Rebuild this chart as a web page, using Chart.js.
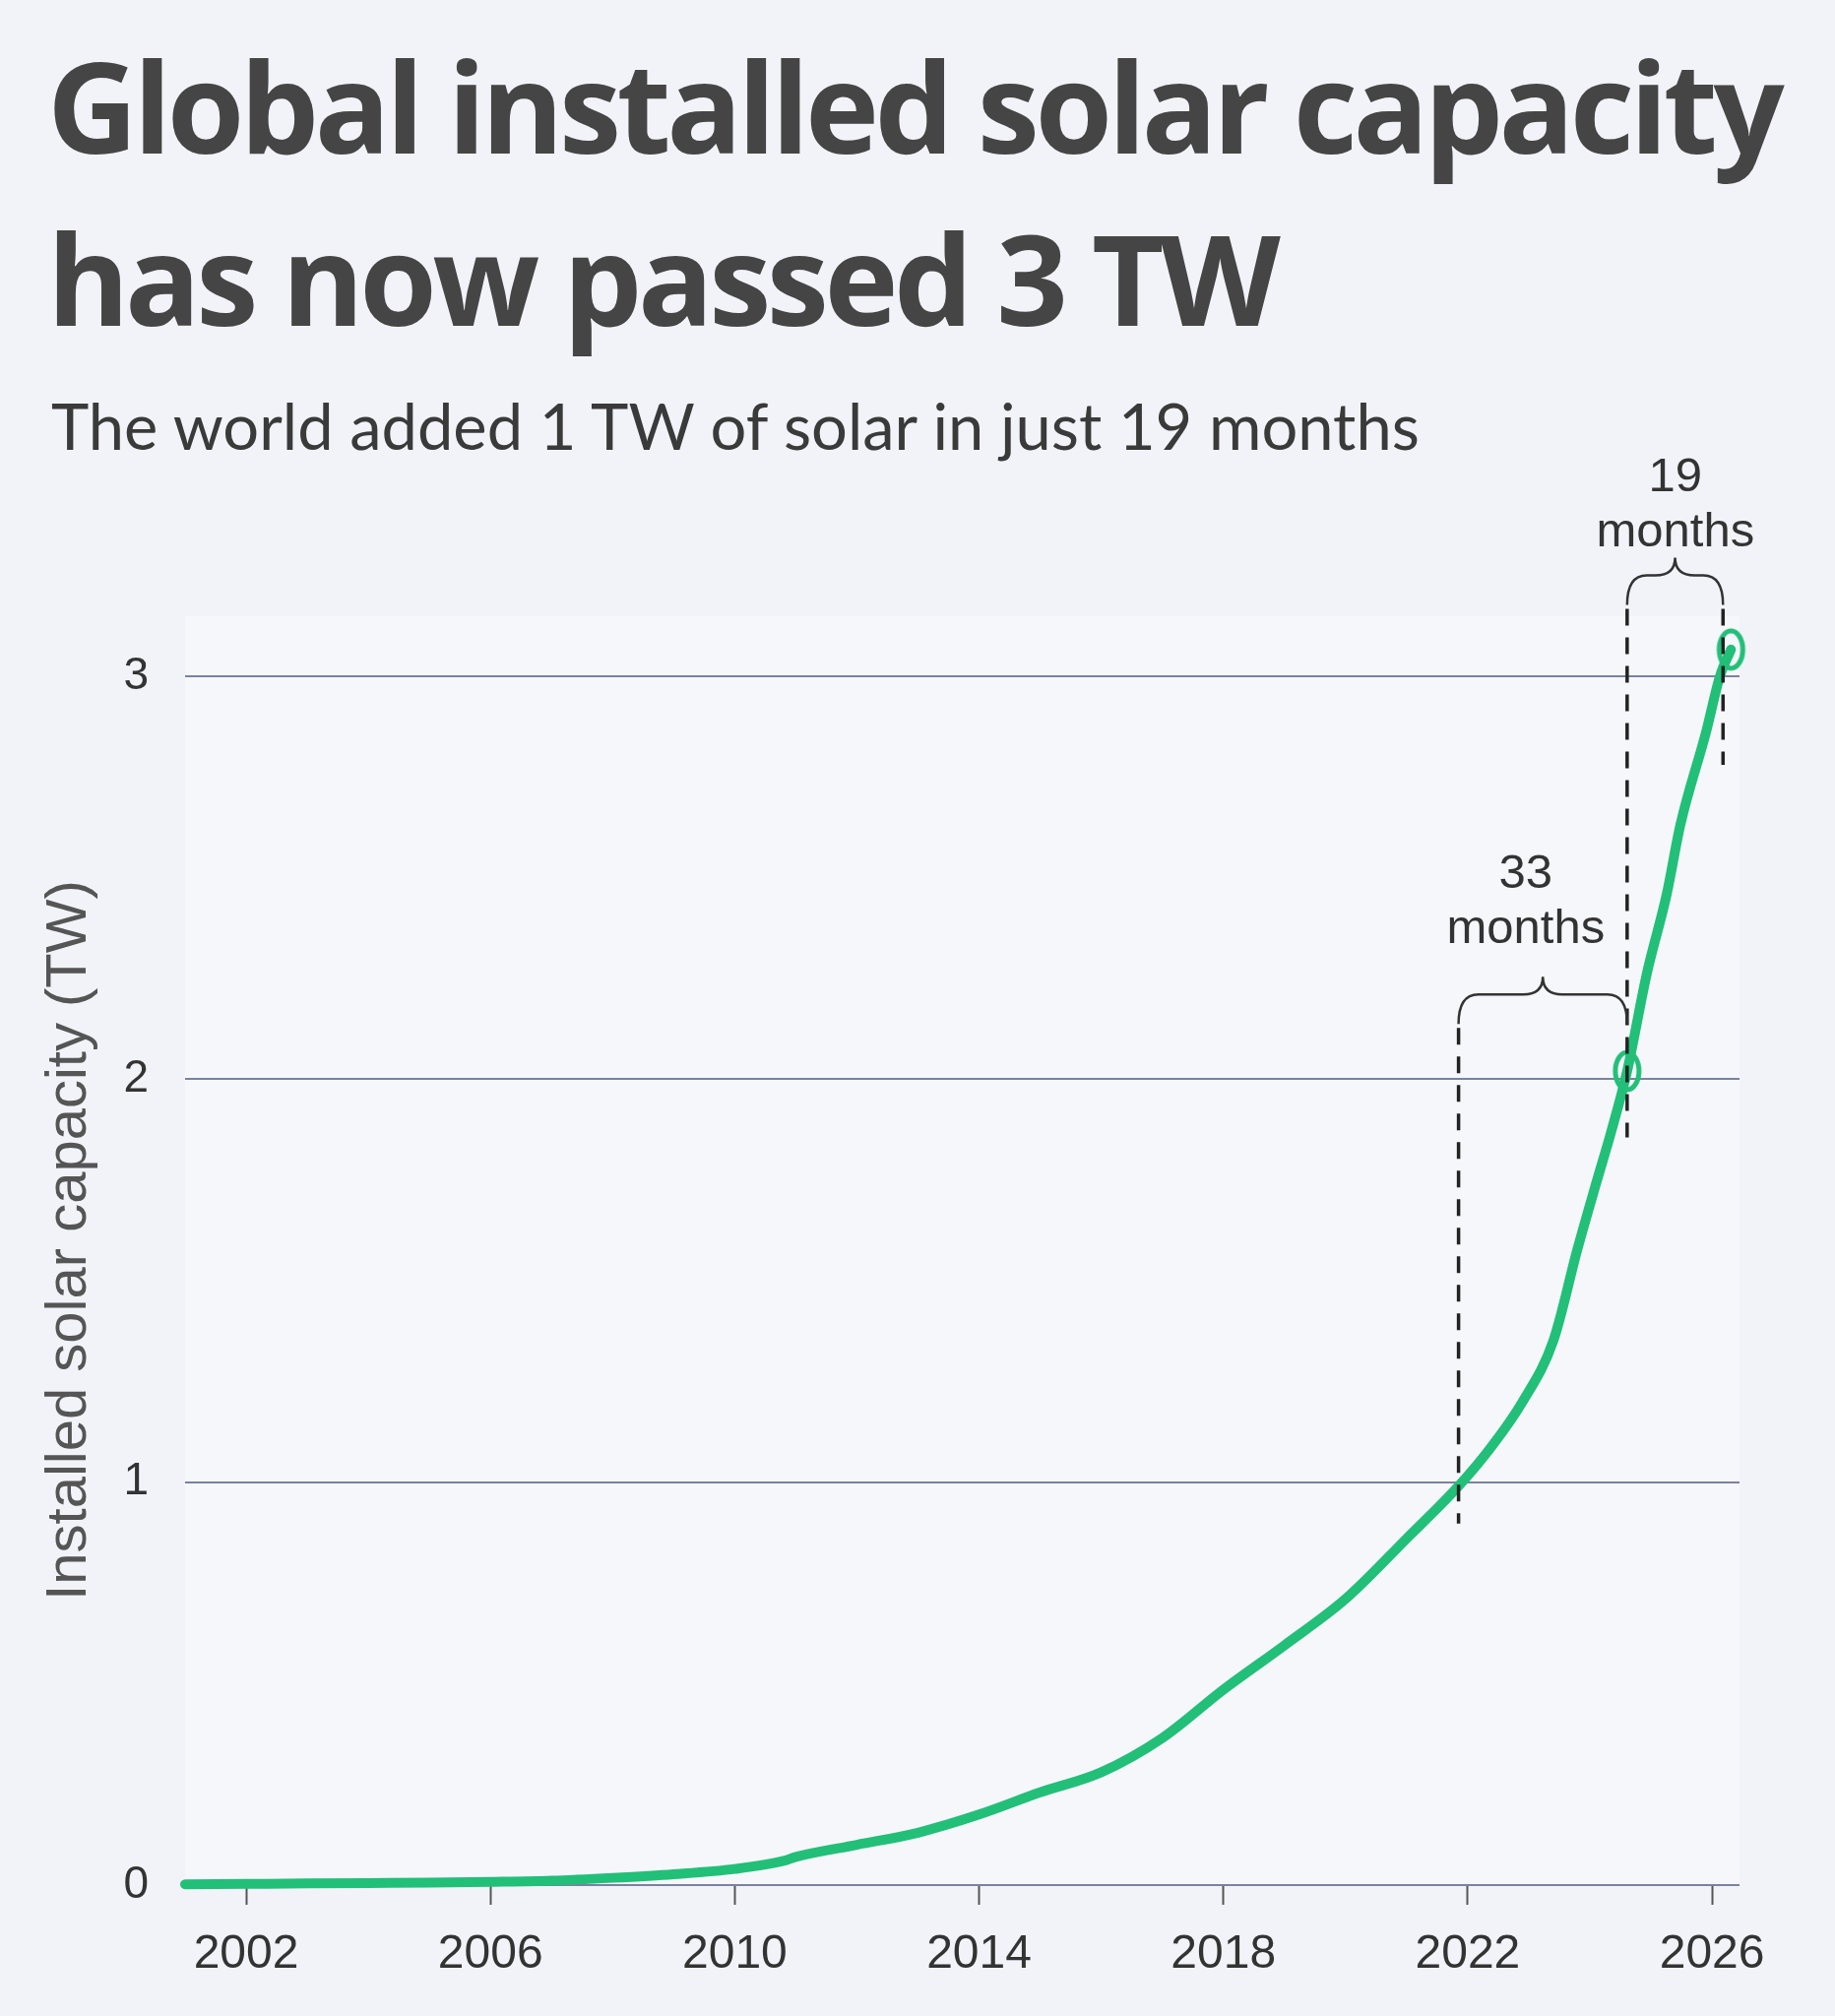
<!DOCTYPE html>
<html>
<head>
<meta charset="utf-8">
<script src="https://cdn.jsdelivr.net/npm/chart.js@4.4.1/dist/chart.umd.min.js"></script>
<style>
  html, body { margin: 0; padding: 0; }
  body { width: 1864px; height: 2048px; overflow: hidden; background: #f2f3f8; position: relative; }
  #title {
    position: absolute; left: 48px; top: 19px; margin: 0;
    font-family: "Open Sans", sans-serif; font-weight: 700; font-size: 127px;
    line-height: 175px; letter-spacing: -4.5px; color: #454545; white-space: nowrap;
  }
  #subtitle {
    position: absolute; left: 52px; top: 393px; margin: 0;
    font-family: Lato, sans-serif; font-weight: 400; font-size: 65px;
    line-height: 78px; color: #3a3a3a; white-space: nowrap;
  }
  #chart { position: absolute; left: 0; top: 440px; }
</style>
</head>
<body>
<h1 id="title">Global installed solar capacity<br>has now passed 3 TW</h1>
<p id="subtitle">The world added 1 TW of solar in just 19 months</p>
<canvas id="chart" width="1864" height="1608"></canvas>
<script>
// cumulative installed capacity
const years = [2001, 2002, 2003, 2004, 2005, 2006, 2007, 2008, 2009, 2010, 2010.8, 2011,
  2012, 2013, 2014, 2015, 2016, 2017, 2018, 2019, 2020, 2021, 2021.85, 2022.4,
  2022.9, 2023.4, 2023.8, 2024.1, 2024.35, 2024.61, 2024.93, 2025.26, 2025.48,
  2025.9, 2026.13, 2026.31];
const capacityTW = [0.002, 0.003, 0.004, 0.005, 0.006, 0.008, 0.011, 0.018, 0.027, 0.04, 0.06, 0.07,
  0.10, 0.13, 0.175, 0.23, 0.28, 0.365, 0.485, 0.595, 0.71, 0.86, 0.99, 1.09,
  1.20, 1.35, 1.58, 1.74, 1.87, 2.02, 2.26, 2.46, 2.63,
  2.86, 3.0, 3.066];

// the 2 TW and 3 TW milestones
const markerYears = [2024.61, 2026.31];
const markerTW = [2.02, 3.066];

const xTicks = [2002, 2006, 2010, 2014, 2018, 2022, 2026];
const yTicks = [0, 1, 2, 3];

// brackets: time taken to add each TW
const spanFrom = [2021.85, 2024.61];
const spanTo = [2024.61, 2026.18];
const spanTW = [2.21, 3.25];
const spanNumber = ['33', '19'];
const spanUnit = ['months', 'months'];
const spanLabelYear = [2022.95, 2025.4];
const spanLabelTW = [2.475, 3.46];

// dashed guides dropping from the brackets to the curve
const guideYear = [2021.85, 2024.61, 2026.18];
const guideBottomTW = [0.897, 1.855, 2.78];
const guideTopTW = [2.21, 3.25, 3.25];

const green = '#22bf78';
const ink = '#333333';

// hollow, slightly tall ring used for the milestone markers
function ring() {
  const c = document.createElement('canvas');
  c.width = 40; c.height = 56;
  const g = c.getContext('2d');
  g.strokeStyle = green;
  g.lineWidth = 5;
  g.beginPath();
  g.ellipse(20, 28, 12, 19, 0, 0, Math.PI * 2);
  g.stroke();
  return c;
}

const plotBg = {
  id: 'plotBg',
  beforeDraw(chart) {
    const { ctx, chartArea: a } = chart;
    const top = chart.scales.y.getPixelForValue(3.15);
    ctx.save();
    ctx.fillStyle = '#f6f7fb';
    ctx.fillRect(a.left, top, a.right - a.left, a.bottom - top);
    ctx.restore();
  }
};

function brace(ctx, x1, x2, y, hook, r, cusp) {
  const xm = (x1 + x2) / 2;
  ctx.beginPath();
  ctx.moveTo(x1, y + hook);
  ctx.quadraticCurveTo(x1, y, x1 + r, y);
  ctx.lineTo(xm - r, y);
  ctx.quadraticCurveTo(xm, y, xm, y - cusp);
  ctx.quadraticCurveTo(xm, y, xm + r, y);
  ctx.lineTo(x2 - r, y);
  ctx.quadraticCurveTo(x2, y, x2, y + hook);
  ctx.stroke();
}

const annotations = {
  id: 'annotations',
  afterDatasetsDraw(chart) {
    const { ctx } = chart;
    const xs = chart.scales.x, ys = chart.scales.y;
    const hook = 30;
    ctx.save();
    // dashed guides
    ctx.strokeStyle = '#222';
    ctx.lineWidth = 3.5;
    ctx.setLineDash([17, 12]);
    guideYear.forEach((yr, i) => {
      const x = xs.getPixelForValue(yr);
      ctx.beginPath();
      ctx.moveTo(x, ys.getPixelForValue(guideTopTW[i]) + hook + 4);
      ctx.lineTo(x, ys.getPixelForValue(guideBottomTW[i]));
      ctx.stroke();
    });
    ctx.setLineDash([]);
    // braces
    ctx.strokeStyle = ink;
    ctx.lineWidth = 2.5;
    spanFrom.forEach((from, i) => {
      brace(ctx, xs.getPixelForValue(from), xs.getPixelForValue(spanTo[i]),
        ys.getPixelForValue(spanTW[i]), hook, 20, 18);
    });
    // labels
    ctx.fillStyle = ink;
    ctx.font = '49px "Liberation Sans", Arial, sans-serif';
    ctx.textAlign = 'center';
    ctx.textBaseline = 'alphabetic';
    spanNumber.forEach((num, i) => {
      const x = xs.getPixelForValue(spanLabelYear[i]);
      const y = ys.getPixelForValue(spanLabelTW[i]);
      ctx.fillText(num, x, y);
      ctx.fillText(spanUnit[i], x, y + 56);
    });
    ctx.restore();
  }
};

new Chart(document.getElementById('chart'), {
  type: 'line',
  data: {
    datasets: [
      {
        data: years.map((x, i) => ({ x, y: capacityTW[i] })),
        borderColor: green,
        borderWidth: 10,
        pointRadius: 0,
        cubicInterpolationMode: 'monotone',
        borderCapStyle: 'round',
        clip: false,
        order: 2
      },
      {
        data: markerYears.map((x, i) => ({ x, y: markerTW[i] })),
        showLine: false,
        pointStyle: ring(),
        pointRadius: 20,
        clip: false,
        order: 1
      }
    ]
  },
  options: {
    responsive: false,
    devicePixelRatio: 1,
    animation: false,
    layout: { padding: { left: 30, right: 97, top: 165, bottom: 0 } },
    plugins: {
      legend: { display: false },
      tooltip: { enabled: false }
    },
    scales: {
      x: {
        type: 'linear',
        min: 2001.0,
        max: 2026.45,
        afterBuildTicks: axis => { axis.ticks = xTicks.map(v => ({ value: v })); },
        afterFit: axis => { axis.height = 133; },
        grid: {
          drawOnChartArea: false,
          tickLength: 20,
          tickColor: '#555',
          tickWidth: 2
        },
        border: { display: false },
        ticks: {
          color: ink,
          padding: 22,
          maxRotation: 0,
          font: { family: '"Liberation Sans", Arial, sans-serif', size: 48 },
          callback: v => String(v)
        }
      },
      y: {
        min: 0,
        max: 3.2,
        afterBuildTicks: axis => { axis.ticks = yTicks.map(v => ({ value: v })); },
        afterFit: axis => { axis.width = 158; },
        grid: {
          color: '#7b82a0',
          lineWidth: 2,
          drawTicks: false
        },
        border: { display: false },
        ticks: {
          color: ink,
          padding: 37,
          font: { family: '"Liberation Sans", Arial, sans-serif', size: 46 },
          callback: v => String(v)
        },
        title: {
          display: true,
          text: 'Installed solar capacity (TW)',
          color: '#555',
          padding: { top: 6, bottom: 0 },
          font: { family: '"Liberation Sans", Arial, sans-serif', size: 58 }
        }
      }
    }
  },
  plugins: [plotBg, annotations]
});
</script>
</body>
</html>
